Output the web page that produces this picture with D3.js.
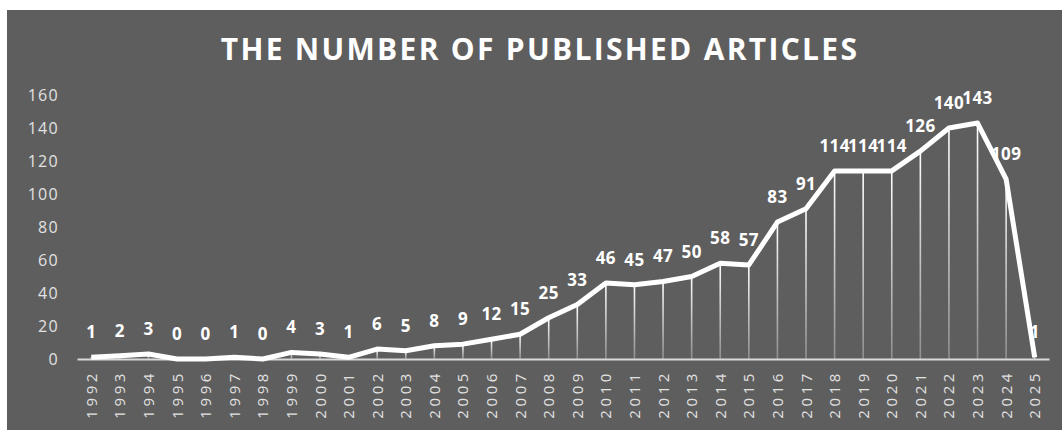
<!DOCTYPE html>
<html><head><meta charset="utf-8">
<script src="https://cdn.jsdelivr.net/npm/d3@7"></script>
<style>
html,body{margin:0;padding:0;background:#fff;}
svg{display:block;}
</style></head>
<body>
<script>
const years = ["1992","1993","1994","1995","1996","1997","1998","1999","2000","2001","2002","2003","2004","2005","2006","2007","2008","2009","2010","2011","2012","2013","2014","2015","2016","2017","2018","2019","2020","2021","2022","2023","2024","2025"];
const articles = [1,2,3,0,0,1,0,4,3,1,6,5,8,9,12,15,25,33,46,45,47,50,58,57,83,91,114,114,114,126,140,143,109,1];
const yTicks = [0,20,40,60,80,100,120,140,160];
const title = "THE NUMBER OF PUBLISHED ARTICLES";

const W = 1062, H = 430;
const svg = d3.select("body").append("svg").attr("width", W).attr("height", H);

svg.append("rect").attr("x", 7).attr("y", 10).attr("width", W - 7).attr("height", H - 10).attr("fill", "#5e5e5e");

const defs = svg.append("defs");
const grad = defs.append("linearGradient").attr("id", "drop").attr("x1", 0).attr("y1", 0).attr("x2", 0).attr("y2", 1);
grad.append("stop").attr("offset", "0%").attr("stop-color", "#ffffff").attr("stop-opacity", 1);
grad.append("stop").attr("offset", "100%").attr("stop-color", "#ffffff").attr("stop-opacity", 0.3);

const x = d3.scaleBand().domain(years).range([77, 1049]);
const y = d3.scaleLinear().domain([0, 160]).range([359, 95]);
const cx = d => x(d) + x.bandwidth() / 2;

// title
svg.append("text").attr("x", 540).attr("y", 60).attr("text-anchor", "middle")
  .attr("font-family", "'Open Sans', sans-serif").attr("font-weight", 700)
  .attr("font-size", 30).attr("letter-spacing", 2.3).attr("fill", "#ffffff")
  .text(title);

// y axis
const yAxis = svg.append("g").attr("transform", "translate(59,0)")
  .call(d3.axisLeft(y).tickValues(yTicks).tickSize(0).tickPadding(0));
yAxis.select(".domain").remove();
yAxis.selectAll("text").attr("font-family", "'Open Sans', sans-serif").attr("font-size", 16)
  .attr("letter-spacing", 1.3).attr("fill", "#e2e2e2");

// drop lines
svg.append("g").selectAll("rect").data(years).join("rect")
  .attr("x", d => cx(d) - 0.8).attr("width", 1.6)
  .attr("y", (d, i) => y(articles[i])).attr("height", (d, i) => y(0) - y(articles[i]))
  .attr("fill", "url(#drop)");

// x axis
const xAxis = svg.append("g").attr("transform", "translate(0," + y(0) + ")")
  .call(d3.axisBottom(x).tickSize(0).tickPadding(0));
xAxis.select(".domain").attr("stroke", "#d9d9d9").attr("stroke-width", 2);
xAxis.selectAll("text")
  .attr("font-family", "'Open Sans', sans-serif").attr("font-size", 15).attr("letter-spacing", 3.6)
  .attr("fill", "#e2e2e2")
  .attr("text-anchor", "end").attr("dy", null)
  .attr("transform", "translate(5.5,11) rotate(-90)");

// data labels
svg.append("g").selectAll("text").data(years).join("text")
  .attr("x", d => cx(d)).attr("y", (d, i) => y(articles[i]) - 19)
  .attr("text-anchor", "middle")
  .attr("font-family", "'Open Sans', sans-serif").attr("font-weight", 700).attr("font-size", 17)
  .attr("letter-spacing", 0.4)
  .attr("fill", "#ffffff")
  .text((d, i) => articles[i]);

// line
const line = d3.line().x((d, i) => cx(years[i])).y(d => y(d));
svg.append("path").datum(articles).attr("d", line)
  .attr("fill", "none").attr("stroke", "#ffffff").attr("stroke-width", 5)
  .attr("stroke-linejoin", "round");
</script>
</body></html>
